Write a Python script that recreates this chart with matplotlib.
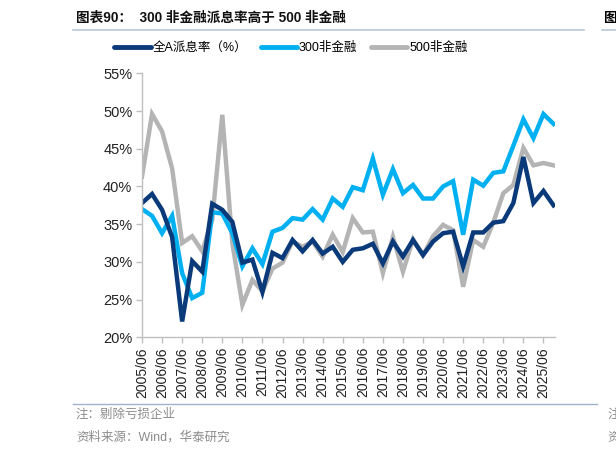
import numpy as np
import matplotlib.pyplot as plt
from matplotlib.lines import Line2D

plt.rcParams['font.family'] = ['Liberation Sans', 'Noto Sans CJK SC', 'DejaVu Sans']

# semi-annual dates 2005/06 .. 2025/12
dates = ['2005/06', '2005/12', '2006/06', '2006/12', '2007/06', '2007/12', '2008/06', '2008/12',
         '2009/06', '2009/12', '2010/06', '2010/12', '2011/06', '2011/12', '2012/06', '2012/12',
         '2013/06', '2013/12', '2014/06', '2014/12', '2015/06', '2015/12', '2016/06', '2016/12',
         '2017/06', '2017/12', '2018/06', '2018/12', '2019/06', '2019/12', '2020/06', '2020/12',
         '2021/06', '2021/12', '2022/06', '2022/12', '2023/06', '2023/12', '2024/06', '2024/12',
         '2025/06', '2025/12']

all_a = [37.8, 39.0, 36.9, 33.3, 22.1, 30.1, 28.7, 37.7, 36.9, 35.3, 29.9, 30.3, 26.0, 31.2,
         30.5, 32.9, 31.4, 32.9, 31.1, 32.0, 30.0, 31.6, 31.8, 32.4, 29.8, 32.7, 30.7, 32.9,
         30.9, 32.7, 33.8, 34.0, 29.4, 33.9, 33.9, 35.2, 35.4, 37.8, 43.9, 37.8, 39.4, 37.5]
hs300 = [37.0, 36.1, 33.8, 36.1, 28.5, 25.2, 25.9, 36.6, 36.4, 33.8, 29.4, 31.8, 29.7, 34.0,
         34.5, 35.8, 35.6, 37.0, 35.6, 38.4, 37.3, 39.9, 39.5, 43.7, 38.9, 42.3, 39.1, 40.2,
         38.4, 38.4, 40.0, 40.7, 33.6, 40.9, 40.1, 41.8, 42.0, 45.4, 48.9, 46.4, 49.6, 48.3]
zz500 = [41.3, 49.6, 47.3, 42.4, 32.5, 33.4, 31.4, 35.6, 49.5, 32.5, 24.3, 27.6, 26.1, 29.1,
         29.9, 32.7, 32.0, 32.7, 30.7, 33.6, 31.3, 35.8, 33.9, 34.0, 28.5, 33.3, 28.7, 33.0,
         30.9, 33.4, 34.9, 34.2, 26.7, 32.9, 32.0, 35.2, 39.1, 40.2, 45.1, 42.8, 43.1, 42.8]

labels = ['全A派息率（%）', '300非金融', '500非金融']
colors = ['#0a3a7a', '#00b0f0', '#b4b4b4']

fig = plt.figure(figsize=(6.16, 4.54), dpi=100)
ax = fig.add_axes([142/616, 1-337.3/454, 413/616, 264/454])

x = np.arange(len(dates))
ax.plot(x, zz500, color=colors[2], lw=3.2, solid_joinstyle='miter')
ax.plot(x, hs300, color=colors[1], lw=3.2, solid_joinstyle='miter')
ax.plot(x, all_a, color=colors[0], lw=3.2, solid_joinstyle='miter')

ax.set_xlim(0, 41.15)
ax.set_ylim(20, 55)
ax.set_yticks(range(20, 56, 5))
ax.set_yticklabels([f'{v}%' for v in range(20, 56, 5)], fontsize=10.5, color='#222222')
ax.set_xticks(x[::2])
ax.set_xticklabels(dates[::2], rotation=90, fontsize=10, color='#222222')
for s in ['top', 'right']:
    ax.spines[s].set_visible(False)
for s in ['left', 'bottom']:
    ax.spines[s].set_color('#bfbfbf')
    ax.spines[s].set_linewidth(1)
ax.tick_params(axis='both', color='#bfbfbf', length=4, width=1, pad=3)

handles = [Line2D([], [], color=c, lw=3.5, solid_capstyle='round') for c in colors]
fig.legend(handles, labels, loc='center', bbox_to_anchor=(291/616, 1-48/454), ncol=3,
           frameon=False, fontsize=9, handlelength=2.9, handletextpad=0.15,
           columnspacing=1.1, borderpad=0)

fig.text(76/616, 1-18/454, '图表90：  300 非金融派息率高于 500 非金融', fontsize=9.8,
         fontweight='bold', va='center', ha='left', color='#111111')
fig.text(604/616, 1-18/454, '图', fontsize=9.8, fontweight='bold', va='center', ha='left')
fig.add_artist(Line2D([73/616, 584/616], [1-29.5/454, 1-29.5/454], color='#b8c7d9', lw=1.2))
fig.add_artist(Line2D([602/616, 1], [1-29.5/454, 1-29.5/454], color='#b8c7d9', lw=1.2))
fig.add_artist(Line2D([73/616, 597/616], [1-404/454, 1-404/454], color='#9fb3cc', lw=1))

fig.text(76/616, 1-415/454, '注：剔除亏损企业', fontsize=9, color='#8c8c8c', va='center')
fig.text(76/616, 1-437/454, '资料来源：Wind，华泰研究', fontsize=9, color='#8c8c8c', va='center')
fig.text(607/616, 1-415/454, '注', fontsize=9, color='#8c8c8c', va='center')
fig.text(607/616, 1-437/454, '资', fontsize=9, color='#8c8c8c', va='center')

fig.savefig('out.png', dpi=100)
